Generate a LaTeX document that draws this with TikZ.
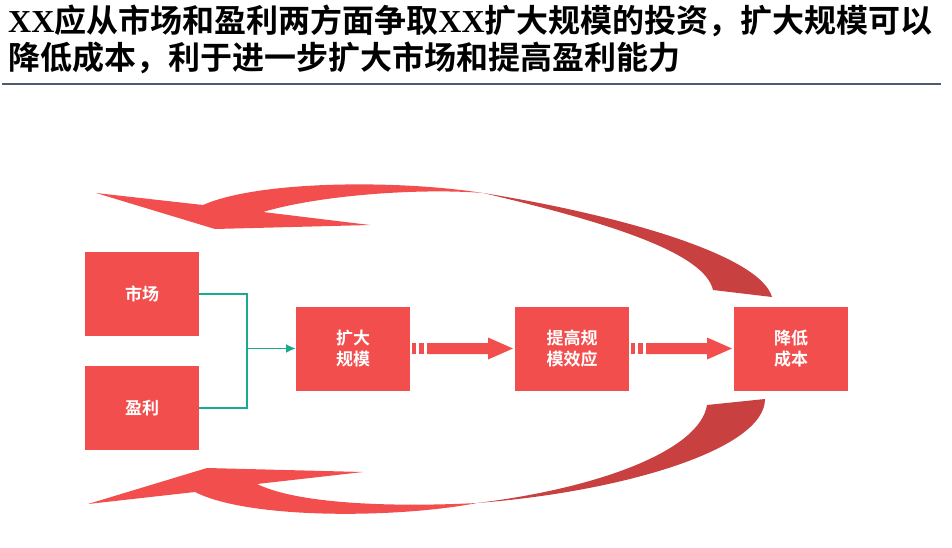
\documentclass[tikz,border=0pt]{standalone}
\usepackage{fontspec}
\setmainfont{Liberation Serif}
\newfontfamily\cjk{Noto Sans CJK SC}[BoldFont={Noto Sans CJK SC Bold}]
\usepackage{xcolor}
\usetikzlibrary{arrows.meta, positioning, calc}
\definecolor{boxred}{RGB}{243,78,78}
\definecolor{darkred}{RGB}{200,64,64}
\definecolor{linkteal}{RGB}{27,170,142}
\definecolor{rulegray}{RGB}{74,93,112}
\tikzset{
  titletext/.style={anchor=base west, inner sep=0pt, font=\cjk\bfseries\fontsize{32}{36}\selectfont},
  box/.style={rectangle, fill=boxred, minimum width=114pt, minimum height=84pt, inner sep=0pt, outer sep=0pt, text=white, align=center, font=\cjk\bfseries\fontsize{17}{21}\selectfont},
  link/.style={draw=linkteal, line width=1.8pt},
  linkarrow/.style={link, -{Latex[length=10pt,width=9pt]}}
}
\newcommand{\flowarrow}[2]{%
  \fill[boxred] ($(#1.east)+(1.5,-5.5)$) rectangle ($(#1.east)+(5.5,5.5)$);
  \fill[boxred] ($(#1.east)+(8.5,-5.5)$) rectangle ($(#1.east)+(13.5,5.5)$);
  \fill[boxred] ($(#1.east)+(17,-5.5)$) -- ($(#2.west)+(-27,-5.5)$) -- ($(#2.west)+(-27,-11)$)
    -- ($(#2.west)+(-2,0)$) -- ($(#2.west)+(-27,11)$) -- ($(#2.west)+(-27,5.5)$)
    -- ($(#1.east)+(17,5.5)$) -- cycle;
}

\begin{document}
\begin{tikzpicture}[x=1pt, y=-1pt, node distance=30pt and 105pt]
\useasboundingbox (0,0) rectangle (952,548);

% Title
\node[titletext] (title1) at (8,33) {{\rmfamily XX}应从市场和盈利两方面争取{\rmfamily XX}扩大规模的投资，扩大规模可以};
\node[titletext] (title2) at (8,70) {降低成本，利于进一步扩大市场和提高盈利能力};
\draw[rulegray, line width=2pt] (2,84.5) -- (941,84.5);

% Boxes
\node (market) [box] at (142,294) {市场};
\node (profit) [box, below=of market] {盈利};
\node (expand) [box] at (353,348.5) {扩大\\规模};
\node (effect) [box, right=of expand] {提高规\\模效应};
\node (cost) [box, right=of effect] {降低\\成本};

% Inputs
\coordinate (join) at ($(market.east)+(48,0)$);
\draw[link] (market.east) -- (join) -- (join |- profit.east) -- (profit.east);
\draw[linkarrow] (join |- expand.west) -- (expand.west);

% Flow
\flowarrow{expand}{effect}
\flowarrow{effect}{cost}

% Return arrow, top
\fill[darkred] (483,193) .. controls (620,215) and (760,255) .. (772,297) -- (713,290)
  .. controls (705,255) and (620,225) .. (483,193) -- cycle;
\fill[boxred] (483,193) .. controls (400,180) and (260,180) .. (203,205) -- (96,193) -- (215,229)
  -- (370,225) -- (263,212) .. controls (320,195) and (420,188) .. (483,193) -- cycle;

% Return arrow, bottom
\fill[darkred] (765,399) .. controls (765,450) and (620,492) .. (477,503)
  .. controls (600,488) and (700,450) .. (707,405) -- cycle;
\fill[boxred] (477,503) .. controls (400,518) and (250,520) .. (195,492) -- (88,504) -- (207,468)
  -- (363,472) -- (257,484) .. controls (300,505) and (400,507) .. (477,503) -- cycle;

\end{tikzpicture}
\end{document}
